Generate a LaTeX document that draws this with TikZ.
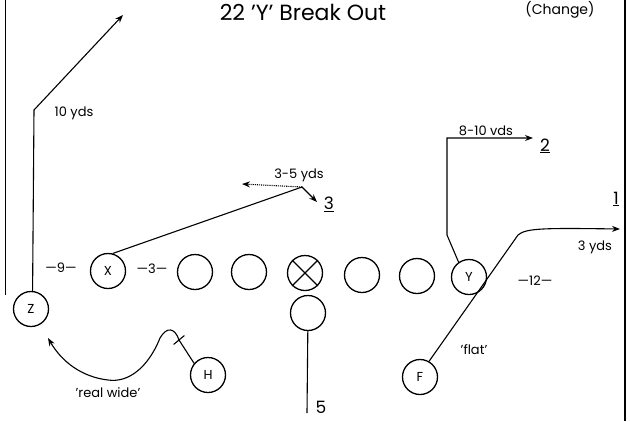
\documentclass[tikz,border=0pt]{standalone}
\usepackage{fontspec}
\setmainfont{Poppins}
\usetikzlibrary{arrows.meta,calc}
\tikzset{
  player/.style={circle,draw,line width=1.3pt,minimum size=35pt,inner sep=0pt,font=\fontsize{13}{13}\selectfont},
  route/.style={line width=1.1pt},
  tip/.style={-{Stealth[length=8pt,width=6pt]}},
  lbl/.style={inner sep=0pt,font=\fontsize{13}{13}\selectfont},
  num/.style={inner sep=0pt,font=\fontsize{17}{17}\selectfont},
}
\begin{document}
\begin{tikzpicture}[x=1pt,y=-1pt]
\useasboundingbox (0,0) rectangle (630,421);
% frame
\draw[line width=1pt] (5,0) coordinate (fl1) -- (5,295) coordinate (fl2);
\draw[line width=1.2pt] (625,0) coordinate (fr1) -- (625,421) coordinate (fr2);
% title
\node[anchor=base,inner sep=0pt,font=\fontsize{22}{22}\selectfont] (title) at (303,20) {22 'Y' Break Out};
\node[anchor=base,inner sep=0pt,font=\fontsize{14}{14}\selectfont] (change) at (560,14) {(Change)};
% players
\node[player] (Z) at (31,309) {Z};
\node[player] (X) at (108,271) {X};
\node[player] (L1) at (195,272) {};
\node[player] (L2) at (249,272) {};
\node[player] (C) at (305,273) {};
\draw[line width=1.2pt] (C.45) -- (C.225) (C.135) -- (C.315);
\node[player] (L4) at (362,275) {};
\node[player] (L5) at (417,276) {};
\node[player] (Y) at (469,277) {Y};
\node[player] (Q) at (308,313) {};
\node[player] (H) at (208,375) {H};
\node[player] (F) at (420,377) {F};
% labels
\node[lbl] (l10) at (74,113) {10 yds};
\node[lbl] (l9) at (61,268) {—9—};
\node[lbl] (l3d) at (152,269) {—3—};
\node[lbl] (l35) at (299,175) {3-5 yds};
\node[num] (n3) at (329,204) {\underline{3}};
\node[lbl] (l810) at (486,131) {8-10 vds};
\node[num] (n2) at (545,146) {\underline{2}};
\node[num] (n1) at (616,199) {\underline{1}};
\node[lbl] (l3y) at (595,247) {3 yds};
\node[lbl] (l12) at (535,281) {—12—};
\node[lbl] (lflat) at (474,350) {'flat'};
\node[num] (n5) at (321,407) {5};
\node[lbl] (lwide) at (108,393) {'real wide'};
% coordinates
\coordinate (zb) at (34,110);
\coordinate (zt) at (123,15);
\coordinate (xb) at (302,187);
\coordinate (xt) at (317,202);
\coordinate (xd) at (242,184);
\coordinate (yb1) at (447,235);
\coordinate (yb2) at (447,138);
\coordinate (yt) at (533,138);
\coordinate (fb) at (518,235);
\coordinate (ft) at (620,229);
\coordinate (qe) at (307,413);
\coordinate (hb) at (179,340);
\coordinate (ht) at (48,338);
% routes
\draw[route,tip] (Z.85) -- (zb) -- (zt);
\draw[route,tip] (X.75) -- (xb) -- (xt);
\draw[route,densely dotted,tip] (xb) -- (xd);
\draw[route,tip] (Y.125) -- (yb1) -- (yb2) -- (yt);
\draw[route,tip] (F.60) -- (fb) .. controls (526,228) and (545,228) .. (ft);
\draw[route] (Q) -- (qe);
\draw[route] (H.140) -- (hb);
\draw[route] ($(hb)!7pt!90:(H)$) -- ($(hb)!7pt!-90:(H)$);
\draw[route,tip] (hb) .. controls (175,328) and (167,326) .. (160,338)
  .. controls (148,368) and (128,383) .. (108,380)
  .. controls (82,377) and (62,362) .. (ht);
\end{tikzpicture}
\end{document}
